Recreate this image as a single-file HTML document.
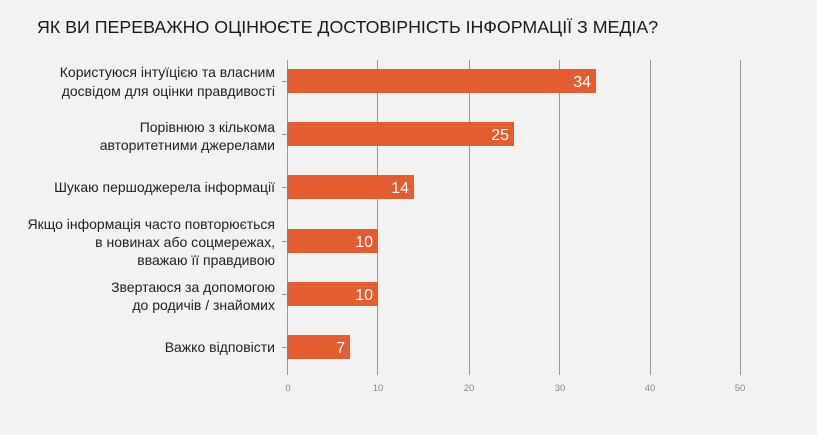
<!DOCTYPE html>
<html><head><meta charset="utf-8"><style>
body{margin:0;width:817px;height:430px;background:#f2f2f2;overflow:hidden;font-family:"Liberation Sans",sans-serif}
</style></head><body>
<svg width="817" height="430" xmlns="http://www.w3.org/2000/svg" font-family="Liberation Sans, sans-serif">
<rect width="817" height="430" fill="#f2f2f2"/>
<text x="37" y="33" font-size="17.8" fill="#1a1a1a">ЯК ВИ ПЕРЕВАЖНО ОЦІНЮЄТЕ ДОСТОВІРНІСТЬ ІНФОРМАЦІЇ З МЕДІА?</text>
<g stroke="#999" stroke-width="1">
<line x1="287.5" y1="60" x2="287.5" y2="375"/>
<line x1="377.5" y1="60" x2="377.5" y2="375"/>
<line x1="469.5" y1="60" x2="469.5" y2="375"/>
<line x1="559.5" y1="60" x2="559.5" y2="375"/>
<line x1="650.5" y1="60" x2="650.5" y2="375"/>
<line x1="740.5" y1="60" x2="740.5" y2="375"/>
<line x1="282" y1="81.5" x2="287" y2="81.5"/>
<line x1="282" y1="134.5" x2="287" y2="134.5"/>
<line x1="282" y1="187.5" x2="287" y2="187.5"/>
<line x1="282" y1="241.5" x2="287" y2="241.5"/>
<line x1="282" y1="294.5" x2="287" y2="294.5"/>
<line x1="282" y1="347.5" x2="287" y2="347.5"/>
</g>
<g fill="#e35d32">
<rect x="287" y="69" width="309" height="24"/>
<rect x="287" y="122" width="227" height="24"/>
<rect x="287" y="175" width="127" height="24"/>
<rect x="287" y="229" width="91" height="24"/>
<rect x="287" y="282" width="91" height="24"/>
<rect x="287" y="335" width="63" height="24"/>
</g>
<g fill="#fff" font-size="16" text-anchor="end">
<text x="591" y="87">34</text>
<text x="509" y="140">25</text>
<text x="409" y="193">14</text>
<text x="373" y="247">10</text>
<text x="373" y="300">10</text>
<text x="345" y="353">7</text>
</g>
<g fill="#222" font-size="14" text-anchor="end">
<text x="275" y="77">Користуюся інтуїцією та власним</text>
<text x="275" y="96">досвідом для оцінки правдивості</text>
<text x="275" y="132">Порівнюю з кількома</text>
<text x="275" y="150">авторитетними джерелами</text>
<text x="275" y="192">Шукаю першоджерела інформації</text>
<text x="275" y="229">Якщо інформація часто повторюється</text>
<text x="275" y="247">в новинах або соцмережах,</text>
<text x="275" y="265">вважаю її правдивою</text>
<text x="275" y="292">Звертаюся за допомогою</text>
<text x="275" y="310">до родичів / знайомих</text>
<text x="275" y="352">Важко відповісти</text>
</g>
<g fill="#888" font-size="9.5" text-anchor="middle">
<text x="288" y="391">0</text>
<text x="378" y="391">10</text>
<text x="469" y="391">20</text>
<text x="560" y="391">30</text>
<text x="650" y="391">40</text>
<text x="740" y="391">50</text>
</g>
</svg>
</body></html>
